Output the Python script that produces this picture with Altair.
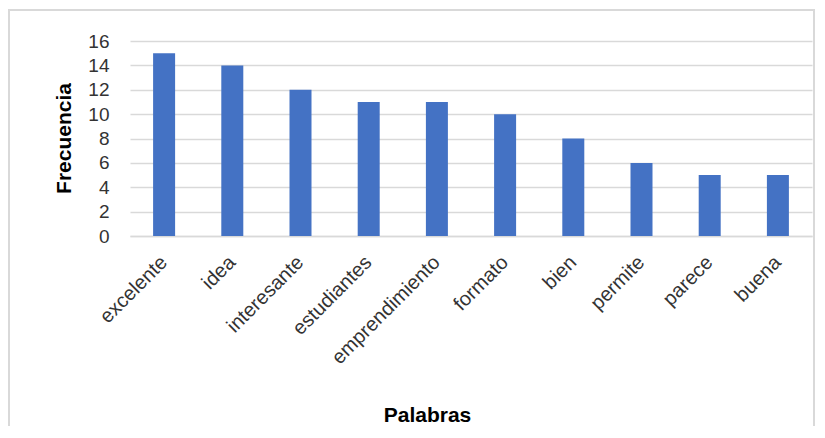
import altair as alt
import pandas as pd

palabras = ["excelente", "idea", "interesante", "estudiantes", "emprendimiento",
            "formato", "bien", "permite", "parece", "buena"]
frecuencia = [15, 14, 12, 11, 11, 10, 8, 6, 5, 5]

df = pd.DataFrame({"Palabras": palabras, "Frecuencia": frecuencia})

FONT = "Liberation Sans"

bars = alt.Chart(df).mark_bar(color="#4472C4", size=22).encode(
    x=alt.X("Palabras:N", sort=palabras,
            scale=alt.Scale(paddingInner=0.68, paddingOuter=0.34),
            axis=alt.Axis(title="Palabras", labelAngle=-45, labelFontSize=20,
                          labelFont=FONT, labelColor="#333333", ticks=False,
                          labelPadding=23, domainColor="#d9d9d9", domainWidth=1.5,
                          titleFont=FONT, titleFontSize=21, titleFontWeight="bold",
                          titleColor="#000000", titleX=297, titleY=179,
                          titleAlign="center", titleBaseline="middle",
                          labelAlign="right", labelBaseline="middle")),
    y=alt.Y("Frecuencia:Q", scale=alt.Scale(domain=[0, 16], nice=False),
            axis=alt.Axis(title="Frecuencia", values=list(range(0, 17, 2)),
                          labelFontSize=19, labelFont=FONT, labelColor="#333333",
                          ticks=False, domain=False, labelPadding=21,
                          gridColor="#d9d9d9", gridWidth=1.3,
                          titleFont=FONT, titleFontSize=21, titleFontWeight="bold",
                          titleColor="#000000", titleX=-66, titleY=97,
                          titleAngle=-90, titleAlign="center",
                          titleBaseline="middle")),
)

frame = alt.Chart(df).mark_rect(fill=None, stroke="#d9d9d9", strokeWidth=1.5,
                                clip=False).encode(
    x=alt.value(-121), x2=alt.value(684), y=alt.value(-31), y2=alt.value(420)
)

chart = alt.layer(frame, bars).properties(
    width=682, height=195,
    autosize=alt.AutoSizeParams(type="none"),
    padding={"left": 122, "top": 33, "right": 3, "bottom": 190},
    background="white",
).configure_view(stroke=None)

chart.save("out.html", embed_options={"renderer": "svg", "actions": False})
